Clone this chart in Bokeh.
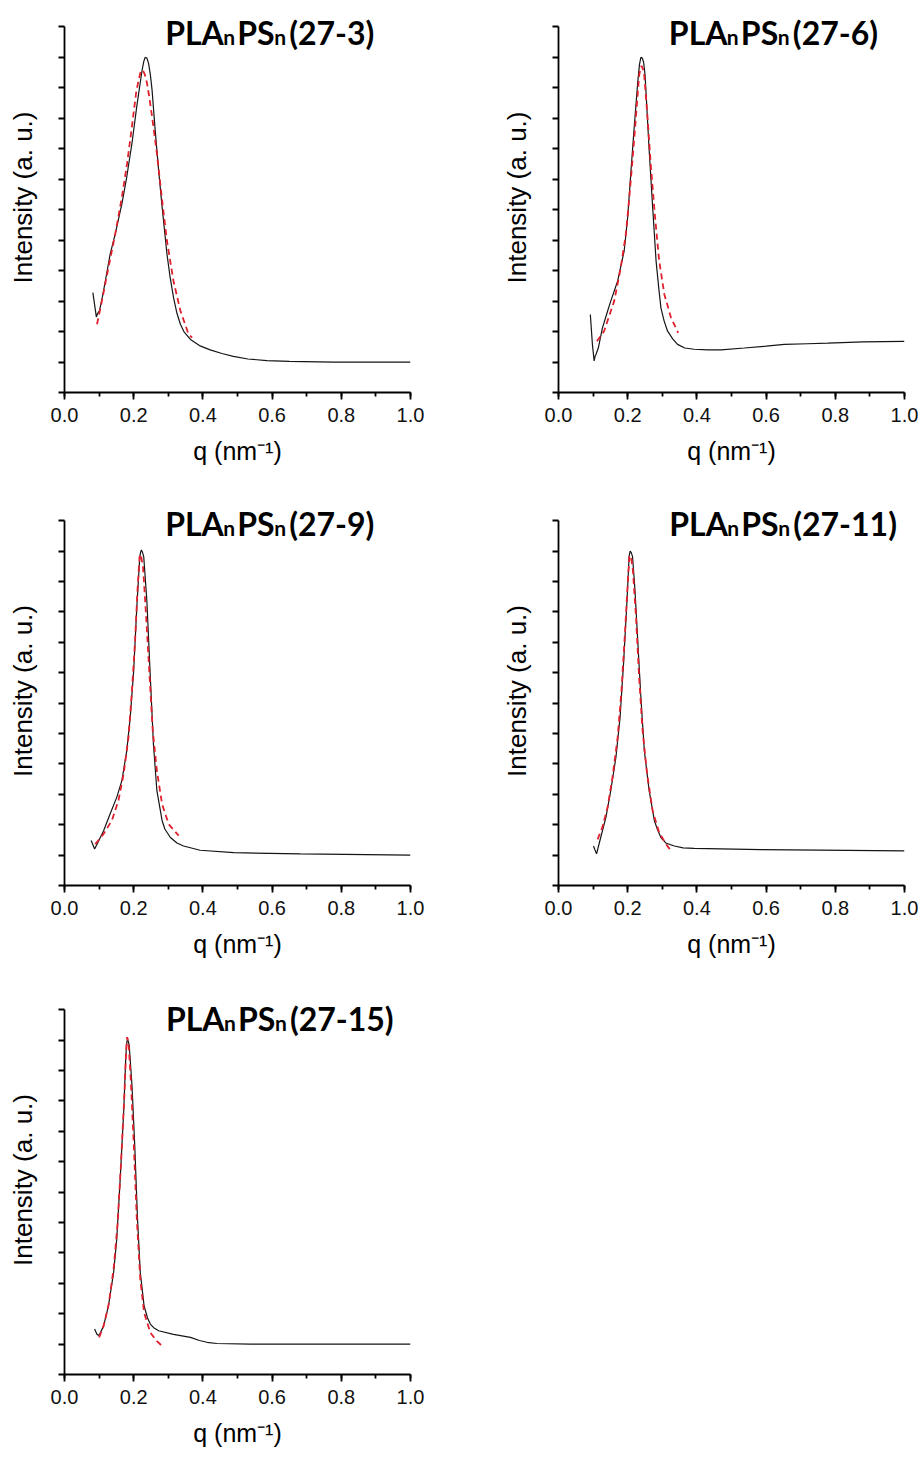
from bokeh.plotting import figure
from bokeh.layouts import column, row
from bokeh.models import Range1d, SingleIntervalTicker, FixedTicker, Label, PrintfTickFormatter
from bokeh.embed import file_html
from bokeh.resources import INLINE

# ---------------- data ----------------
samples = ["27-3", "27-6", "27-9", "27-11", "27-15"]

q_exp_1 = [0.082, 0.088, 0.092, 0.096, 0.101, 0.110, 0.118, 0.132, 0.147, 0.166, 0.180, 0.195, 0.209,
           0.218, 0.224, 0.229, 0.233, 0.238, 0.243, 0.248, 0.253, 0.262, 0.272, 0.282, 0.296, 0.305,
           0.315, 0.325, 0.335, 0.345, 0.364, 0.390, 0.421, 0.455, 0.488, 0.530, 0.585, 0.650, 0.777, 1.0]
I_exp_1 = [1.14, 0.90, 0.74, 0.80, 0.84, 1.08, 1.33, 1.77, 2.11, 2.60, 3.04, 3.59, 4.20,
           4.55, 4.78, 4.93, 5.00, 4.99, 4.90, 4.72, 4.47, 3.81, 3.15, 2.55, 1.78, 1.40,
           1.06, 0.80, 0.62, 0.50, 0.37, 0.27, 0.20, 0.14, 0.094, 0.05, 0.023, 0.01, 0.0, 0.0]
q_fit_1 = [0.094, 0.108, 0.127, 0.147, 0.166, 0.181, 0.195, 0.207, 0.214, 0.219, 0.223, 0.227,
           0.232, 0.238, 0.245, 0.253, 0.267, 0.282, 0.296, 0.315, 0.335, 0.359, 0.369]
I_fit_1 = [0.62, 1.00, 1.55, 2.11, 2.71, 3.26, 3.87, 4.42, 4.62, 4.74, 4.79, 4.78,
           4.72, 4.59, 4.35, 4.03, 3.43, 2.66, 1.99, 1.33, 0.84, 0.45, 0.40]

q_exp_2 = [0.092, 0.098, 0.103, 0.106, 0.108, 0.115, 0.127, 0.140, 0.151, 0.171, 0.190, 0.200, 0.209,
           0.219, 0.229, 0.234, 0.238, 0.242, 0.246, 0.250, 0.253, 0.262, 0.272, 0.282, 0.290, 0.296,
           0.305, 0.315, 0.330, 0.344, 0.365, 0.392, 0.431, 0.470, 0.537, 0.600, 0.653, 0.720, 0.778,
           0.880, 1.0]
I_exp_2 = [0.78, 0.29, 0.02, 0.10, 0.12, 0.23, 0.56, 0.80, 1.00, 1.33, 1.83, 2.38, 3.10,
           3.87, 4.59, 4.88, 5.00, 4.99, 4.92, 4.72, 4.42, 3.48, 2.55, 1.66, 1.20, 0.89,
           0.68, 0.51, 0.38, 0.29, 0.23, 0.21, 0.20, 0.20, 0.23, 0.26, 0.29, 0.30, 0.31,
           0.33, 0.34]
q_fit_2 = [0.111, 0.132, 0.161, 0.180, 0.195, 0.204, 0.214, 0.224, 0.233, 0.237, 0.240, 0.244,
           0.248, 0.257, 0.267, 0.279, 0.291, 0.306, 0.325, 0.346]
I_fit_2 = [0.34, 0.51, 1.00, 1.55, 2.11, 2.66, 3.32, 4.04, 4.70, 4.82, 4.86, 4.81,
           4.70, 4.04, 3.21, 2.38, 1.66, 1.11, 0.73, 0.48]

q_exp_3 = [0.077, 0.087, 0.094, 0.113, 0.132, 0.151, 0.166, 0.180, 0.190, 0.200, 0.209, 0.217, 0.219,
           0.222, 0.225, 0.229, 0.238, 0.248, 0.257, 0.267, 0.282, 0.290, 0.306, 0.325, 0.344, 0.392,
           0.489, 0.682, 1.0]
I_exp_3 = [0.24, 0.10, 0.18, 0.40, 0.68, 0.95, 1.23, 1.72, 2.27, 3.04, 4.08, 4.85, 4.96,
           5.02, 4.99, 4.91, 4.19, 2.93, 1.83, 1.06, 0.57, 0.43, 0.29, 0.20, 0.15, 0.08,
           0.04, 0.02, 0.0]
q_fit_3 = [0.089, 0.113, 0.137, 0.156, 0.171, 0.185, 0.195, 0.204, 0.211, 0.217, 0.219, 0.221,
           0.227, 0.236, 0.246, 0.255, 0.267, 0.282, 0.301, 0.330]
I_fit_3 = [0.18, 0.35, 0.57, 0.90, 1.34, 1.94, 2.71, 3.53, 4.36, 4.91, 4.95, 4.93,
           4.74, 3.92, 2.93, 2.05, 1.39, 0.84, 0.51, 0.32]

q_exp_4 = [0.101, 0.110, 0.122, 0.137, 0.151, 0.166, 0.178, 0.188, 0.198, 0.204, 0.207, 0.210, 0.214,
           0.221, 0.229, 0.238, 0.248, 0.262, 0.277, 0.286, 0.296, 0.310, 0.335, 0.360, 0.392, 0.585, 1.0]
I_exp_4 = [0.15, 0.02, 0.29, 0.62, 1.06, 1.61, 2.27, 3.15, 4.19, 4.91, 5.00, 4.98, 4.91,
           4.36, 3.53, 2.60, 1.72, 1.06, 0.57, 0.42, 0.29, 0.20, 0.15, 0.12, 0.11, 0.09, 0.07]
q_fit_4 = [0.113, 0.127, 0.142, 0.156, 0.171, 0.182, 0.192, 0.200, 0.205, 0.209, 0.215, 0.224,
           0.233, 0.243, 0.256, 0.272, 0.291, 0.311, 0.325]
I_fit_4 = [0.26, 0.46, 0.79, 1.28, 1.94, 2.71, 3.64, 4.47, 4.91, 4.93, 4.69, 3.92,
           2.93, 2.05, 1.34, 0.73, 0.37, 0.18, 0.07]

q_exp_5 = [0.087, 0.094, 0.100, 0.113, 0.127, 0.142, 0.151, 0.161, 0.171, 0.177, 0.179, 0.181, 0.184,
           0.187, 0.195, 0.203, 0.211, 0.219, 0.230, 0.240, 0.248, 0.260, 0.272, 0.315, 0.364, 0.390,
           0.412, 0.440, 0.537, 1.0]
I_exp_5 = [0.25, 0.16, 0.14, 0.30, 0.63, 1.18, 1.73, 2.72, 3.82, 4.70, 4.90, 5.00, 4.99,
           4.92, 4.26, 3.27, 2.06, 1.18, 0.63, 0.43, 0.33, 0.26, 0.22, 0.16, 0.11, 0.06,
           0.03, 0.01, 0.0, 0.0]
q_fit_5 = [0.100, 0.113, 0.127, 0.142, 0.153, 0.163, 0.173, 0.178, 0.181, 0.185, 0.192, 0.200,
           0.209, 0.219, 0.230, 0.248, 0.267, 0.282]
I_fit_5 = [0.11, 0.30, 0.63, 1.24, 1.95, 2.94, 4.09, 4.81, 5.05, 4.97, 4.31, 3.32,
           2.06, 1.07, 0.52, 0.19, 0.05, -0.03]

x_tick_interval = 0.2
y_minor_ticks = [-0.5, 0.0, 0.5, 1.0, 1.5, 2.0, 2.5, 3.0, 3.5, 4.0, 4.5, 5.0, 5.5]
y_axis_bounds = (-0.5, 5.5)

AXIS_FONT = "Liberation Sans"
TITLE_FONT = "Lato"


def make_panel(qe, Ie, qf, If, sample, width, height, left, right, top, bottom, tx, ty):
    p = figure(width=width, height=height,
               x_range=Range1d(0, 1), y_range=Range1d(-0.5, 5.9),
               output_backend="svg", toolbar_location=None,
               min_border_left=left, min_border_right=right,
               min_border_top=top, min_border_bottom=bottom)
    p.outline_line_color = None
    p.grid.visible = False

    p.xaxis.ticker = SingleIntervalTicker(interval=x_tick_interval, num_minor_ticks=2)
    p.yaxis.ticker = FixedTicker(ticks=[], minor_ticks=y_minor_ticks)
    p.yaxis.bounds = y_axis_bounds
    p.xaxis.formatter = PrintfTickFormatter(format="%.1f")

    for ax in (p.xaxis[0], p.yaxis[0]):
        ax.axis_line_width = 1.8
        ax.axis_line_color = "black"
        ax.major_tick_line_width = 1.8
        ax.minor_tick_line_width = 1.8
        ax.major_tick_line_color = "black"
        ax.minor_tick_line_color = "black"
        ax.major_tick_in = 0
        ax.minor_tick_in = 0
        ax.major_tick_out = 7
        ax.axis_label_text_font = AXIS_FONT
        ax.axis_label_text_font_style = "normal"
        ax.axis_label_text_font_size = "25px"
        ax.axis_label_text_color = "black"
        ax.major_label_text_font = AXIS_FONT
        ax.major_label_text_font_size = "20px"
        ax.major_label_text_color = "#111111"

    p.xaxis.minor_tick_out = 4
    p.yaxis.minor_tick_out = 6

    p.xaxis.axis_label = "q (nm⁻¹)"
    p.xaxis.major_label_standoff = 8
    p.xaxis.axis_label_standoff = 12

    p.yaxis.axis_label = "Intensity (a. u.)"
    p.yaxis.axis_label_text_font_size = "26px"
    p.yaxis.major_label_standoff = 0
    p.yaxis.axis_label_standoff = 21

    p.line(qe, Ie, line_color="#151515", line_width=1.2)
    p.line(qf, If, line_color="#e0202c", line_width=1.8, line_dash="6 4")

    # title pieces: (text, x offset px, y offset px, font size)
    pieces = [("PLA", 0, 0, "32px"), ("n", 58, -4, "21px"), ("PS", 72, 0, "32px"),
              ("n", 109, -4, "21px"), ("(" + sample + ")", 124, 0, "32px")]
    for txt, xo, yo, size in pieces:
        p.add_layout(Label(x=tx, y=ty, x_units="data", y_units="data", x_offset=xo, y_offset=yo,
                           text=txt, text_font=TITLE_FONT, text_font_style="bold",
                           text_font_size=size, text_color="black",
                           text_baseline="alphabetic", text_align="left"))
    return p


W_L, W_R = 448, 470
H1, H2, H3 = 488, 490, 480

p1 = make_panel(q_exp_1, I_exp_1, q_fit_1, I_fit_1, samples[0], W_L, H1, 64, 38, 2, H1 - 2 - 390, 0.291, 5.40)
p2 = make_panel(q_exp_2, I_exp_2, q_fit_2, I_fit_2, samples[1], W_R, H1, 110, 14, 2, H1 - 2 - 390, 0.319, 5.40)
p3 = make_panel(q_exp_3, I_exp_3, q_fit_3, I_fit_3, samples[2], W_L, H2, 64, 38, 8, H2 - 8 - 389, 0.291, 5.46)
p4 = make_panel(q_exp_4, I_exp_4, q_fit_4, I_fit_4, samples[3], W_R, H2, 110, 14, 8, H2 - 8 - 389, 0.320, 5.46)
p5 = make_panel(q_exp_5, I_exp_5, q_fit_5, I_fit_5, samples[4], W_L, H3, 64, 38, 7, H3 - 7 - 389, 0.293, 5.36)

layout = column(row(p1, p2), row(p3, p4), row(p5))

open("out.html", "w").write(file_html(layout, INLINE))
